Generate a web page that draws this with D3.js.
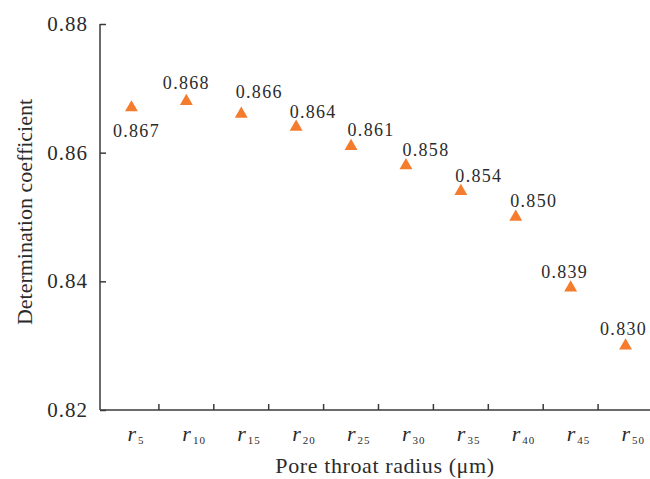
<!DOCTYPE html>
<html>
<head>
<meta charset="utf-8">
<script src="https://cdn.jsdelivr.net/npm/d3@7"></script>
<style>
    body { margin: 0; background: #fff; }
    svg { display: block; font-family: "Liberation Serif", "Times New Roman", serif; }
</style>
</head>
<body>
<div id="chart"></div>
<script>
// ── Data ──
const radii = ["5", "10", "15", "20", "25", "30", "35", "40", "45", "50"];
const coefficients = [0.867, 0.868, 0.866, 0.864, 0.861, 0.858, 0.854, 0.850, 0.839, 0.830];
const yTicks = [0.82, 0.84, 0.86, 0.88];

// label placement relative to each marker (dx, dy)
const labelOffsets = [[5, 29], [0, -12], [18, -16], [17, -9], [20, -10],
                      [20, -10], [18, -9], [18, -10], [-6, -10], [-2, -11]];

const width = 650, height = 479;
const axisColor = "#3a3a3a";
const textColor = "#2b2b2b";
const markerColor = "#f47c2c";

const svg = d3.select("#chart").append("svg")
    .attr("width", width)
    .attr("height", height);

const x = d3.scaleBand()
    .domain(radii)
    .range([104, 653]);

const y = d3.scaleLinear()
    .domain([0.82, 0.88])
    .range([410, 24]);

// ── Y axis ──
const yAxis = svg.append("g")
    .attr("transform", "translate(100,0)")
    .call(d3.axisRight(y).tickValues(yTicks).tickSize(6).tickFormat(""));
yAxis.select(".domain").attr("d", "M0,24V410").attr("stroke", axisColor).attr("stroke-width", 1.5);
yAxis.selectAll(".tick line").attr("stroke", axisColor).attr("stroke-width", 1.5);

svg.append("g").selectAll("text")
    .data(yTicks)
    .join("text")
    .attr("x", 88)
    .attr("y", d => y(d) + 7)
    .attr("text-anchor", "end")
    .attr("font-size", 21)
    .attr("letter-spacing", 1)
    .attr("fill", textColor)
    .text(d => d.toFixed(2));

// ── X axis ──
svg.append("line")
    .attr("x1", 100).attr("x2", 650)
    .attr("y1", 410).attr("y2", 410)
    .attr("stroke", axisColor).attr("stroke-width", 1.5);

svg.append("g").selectAll("line")
    .data(radii.slice(0, -1))
    .join("line")
    .attr("x1", d => x(d) + x.bandwidth())
    .attr("x2", d => x(d) + x.bandwidth())
    .attr("y1", 410).attr("y2", 404)
    .attr("stroke", axisColor).attr("stroke-width", 1.5);

const xLabels = svg.append("g").selectAll("text")
    .data(radii)
    .join("text")
    .attr("x", d => x(d) + x.bandwidth() / 2 - 4)
    .attr("y", 441)
    .attr("fill", textColor);
xLabels.append("tspan")
    .attr("font-style", "italic")
    .attr("font-size", 22)
    .text("r");
xLabels.append("tspan")
    .attr("font-size", 11)
    .attr("dx", 2)
    .attr("dy", 3)
    .attr("letter-spacing", 1)
    .text(d => d);

// ── Axis titles ──
svg.append("text")
    .attr("x", 385)
    .attr("y", 473)
    .attr("text-anchor", "middle")
    .attr("font-size", 22)
    .attr("letter-spacing", 0.6)
    .attr("fill", textColor)
    .text("Pore throat radius (μm)");

svg.append("text")
    .attr("transform", "translate(32,212) rotate(-90)")
    .attr("text-anchor", "middle")
    .attr("font-size", 22)
    .attr("fill", textColor)
    .text("Determination coefficient");

// ── Markers ──
const points = radii.map((r, i) => ({ r, v: coefficients[i], off: labelOffsets[i] }));

svg.append("g").selectAll("path")
    .data(points)
    .join("path")
    .attr("d", d3.symbol(d3.symbolTriangle, 72))
    .attr("transform", d => `translate(${x(d.r) + x.bandwidth() / 2},${y(d.v)})`)
    .attr("fill", markerColor);

svg.append("g").selectAll("text")
    .data(points)
    .join("text")
    .attr("x", d => x(d.r) + x.bandwidth() / 2 + d.off[0])
    .attr("y", d => y(d.v) + d.off[1])
    .attr("text-anchor", "middle")
    .attr("font-size", 18)
    .attr("letter-spacing", 1.3)
    .attr("fill", textColor)
    .text(d => d.v.toFixed(3));
</script>
</body>
</html>
